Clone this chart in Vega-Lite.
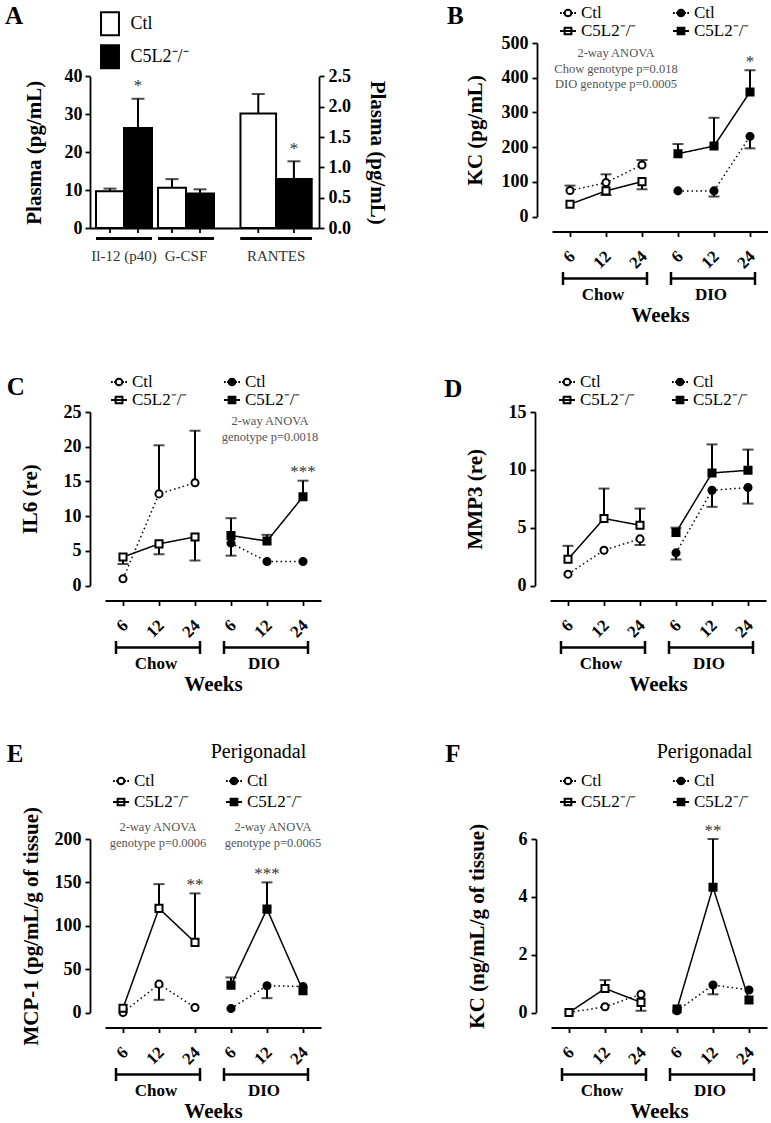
{
"$schema":"https://vega.github.io/schema/vega-lite/v6.json",
"padding":{"left":5,"top":3,"right":0,"bottom":0},
"datasets":{
"A1":[
{"grp":"Il-12 (p40)","g":"Ctl","m":9.67,"e":10.4},
{"grp":"Il-12 (p40)","g":"C5L2","m":26.4,"e":34.1,"sig":"*"},
{"grp":"G-CSF","g":"Ctl","m":10.6,"e":12.9},
{"grp":"G-CSF","g":"C5L2","m":9.1,"e":10.2}],
"A2":[
{"grp":"RANTES","g":"Ctl","m":1.89,"e":2.21},
{"grp":"RANTES","g":"C5L2","m":0.81,"e":1.1,"sig":"*"}],
"ser":[{"s":"Chow Ctl"},{"s":"Chow C5L2"},{"s":"DIO Ctl"},{"s":"DIO C5L2"}],
"brk":[{"d":"Chow","a":"Chow 6","b":"Chow 24","c":"Chow 12"},{"d":"DIO","a":"DIO 6","b":"DIO 24","c":"DIO 12"}],
"B":[
{"d":"Chow","g":"Ctl","w":6,"k":"Chow 6","m":74.7,"e":89},
{"d":"Chow","g":"Ctl","w":12,"k":"Chow 12","m":97.7,"e":121.6},
{"d":"Chow","g":"Ctl","w":24,"k":"Chow 24","m":148.5,"e":162.8},
{"d":"Chow","g":"C5L2","w":6,"k":"Chow 6","m":35.4},
{"d":"Chow","g":"C5L2","w":12,"k":"Chow 12","m":73.8,"e":62},
{"d":"Chow","g":"C5L2","w":24,"k":"Chow 24","m":100.6,"e":78.5},
{"d":"DIO","g":"Ctl","w":6,"k":"DIO 6","m":73.8},
{"d":"DIO","g":"Ctl","w":12,"k":"DIO 12","m":73.8,"e":57.5},
{"d":"DIO","g":"Ctl","w":24,"k":"DIO 24","m":230.8,"e":196.4},
{"d":"DIO","g":"C5L2","w":6,"k":"DIO 6","m":181,"e":208.8},
{"d":"DIO","g":"C5L2","w":12,"k":"DIO 12","m":203,"e":284.5},
{"d":"DIO","g":"C5L2","w":24,"k":"DIO 24","m":359,"e":421.5,"sig":"*"}],
"C":[
{"d":"Chow","g":"Ctl","w":6,"k":"Chow 6","m":0.96},
{"d":"Chow","g":"Ctl","w":12,"k":"Chow 12","m":13.2,"e":20.2},
{"d":"Chow","g":"Ctl","w":24,"k":"Chow 24","m":14.8,"e":22.3},
{"d":"Chow","g":"C5L2","w":6,"k":"Chow 6","m":4.1,"e":3.1},
{"d":"Chow","g":"C5L2","w":12,"k":"Chow 12","m":6.0,"e":4.5},
{"d":"Chow","g":"C5L2","w":24,"k":"Chow 24","m":7.0,"e":3.6},
{"d":"DIO","g":"Ctl","w":6,"k":"DIO 6","m":6.1,"e":4.3},
{"d":"DIO","g":"Ctl","w":12,"k":"DIO 12","m":3.46},
{"d":"DIO","g":"Ctl","w":24,"k":"DIO 24","m":3.46},
{"d":"DIO","g":"C5L2","w":6,"k":"DIO 6","m":7.2,"e":9.7},
{"d":"DIO","g":"C5L2","w":12,"k":"DIO 12","m":6.4,"e":7.3},
{"d":"DIO","g":"C5L2","w":24,"k":"DIO 24","m":12.8,"e":15.1,"sig":"***"}],
"D":[
{"d":"Chow","g":"Ctl","w":6,"k":"Chow 6","m":0.98},
{"d":"Chow","g":"Ctl","w":12,"k":"Chow 12","m":3.05},
{"d":"Chow","g":"Ctl","w":24,"k":"Chow 24","m":4.03,"e":3.5},
{"d":"Chow","g":"C5L2","w":6,"k":"Chow 6","m":2.27,"e":3.43},
{"d":"Chow","g":"C5L2","w":12,"k":"Chow 12","m":5.79,"e":8.38},
{"d":"Chow","g":"C5L2","w":24,"k":"Chow 24","m":5.21,"e":6.65},
{"d":"DIO","g":"Ctl","w":6,"k":"DIO 6","m":2.82,"e":2.25},
{"d":"DIO","g":"Ctl","w":12,"k":"DIO 12","m":8.23,"e":6.8},
{"d":"DIO","g":"Ctl","w":24,"k":"DIO 24","m":8.47,"e":7.08},
{"d":"DIO","g":"C5L2","w":6,"k":"DIO 6","m":4.58,"e":5.0},
{"d":"DIO","g":"C5L2","w":12,"k":"DIO 12","m":9.73,"e":12.2},
{"d":"DIO","g":"C5L2","w":24,"k":"DIO 24","m":9.96,"e":11.75}],
"E":[
{"d":"Chow","g":"Ctl","w":6,"k":"Chow 6","m":0},
{"d":"Chow","g":"Ctl","w":12,"k":"Chow 12","m":32.7,"e":14.6},
{"d":"Chow","g":"Ctl","w":24,"k":"Chow 24","m":5.8},
{"d":"Chow","g":"C5L2","w":6,"k":"Chow 6","m":5},
{"d":"Chow","g":"C5L2","w":12,"k":"Chow 12","m":120,"e":148},
{"d":"Chow","g":"C5L2","w":24,"k":"Chow 24","m":80.8,"e":137.3,"sig":"**"},
{"d":"DIO","g":"Ctl","w":6,"k":"DIO 6","m":4.6},
{"d":"DIO","g":"Ctl","w":12,"k":"DIO 12","m":30.8,"e":16.5},
{"d":"DIO","g":"Ctl","w":24,"k":"DIO 24","m":30},
{"d":"DIO","g":"C5L2","w":6,"k":"DIO 6","m":31.5,"e":40.4},
{"d":"DIO","g":"C5L2","w":12,"k":"DIO 12","m":119.2,"e":150,"sig":"***"},
{"d":"DIO","g":"C5L2","w":24,"k":"DIO 24","m":25}],
"F":[
{"d":"Chow","g":"Ctl","w":6,"k":"Chow 6","m":0},
{"d":"Chow","g":"Ctl","w":12,"k":"Chow 12","m":0.2},
{"d":"Chow","g":"Ctl","w":24,"k":"Chow 24","m":0.63},
{"d":"Chow","g":"C5L2","w":6,"k":"Chow 6","m":0},
{"d":"Chow","g":"C5L2","w":12,"k":"Chow 12","m":0.83,"e":1.12},
{"d":"Chow","g":"C5L2","w":24,"k":"Chow 24","m":0.35,"e":0.06},
{"d":"DIO","g":"Ctl","w":6,"k":"DIO 6","m":0.06},
{"d":"DIO","g":"Ctl","w":12,"k":"DIO 12","m":0.95,"e":0.63},
{"d":"DIO","g":"Ctl","w":24,"k":"DIO 24","m":0.78},
{"d":"DIO","g":"C5L2","w":6,"k":"DIO 6","m":0.12},
{"d":"DIO","g":"C5L2","w":12,"k":"DIO 12","m":4.33,"e":6.0,"sig":"**"},
{"d":"DIO","g":"C5L2","w":24,"k":"DIO 24","m":0.43}]
},
"vconcat":[
{"hconcat":[
{"width":229,"height":185,
"layer":[
{"data":{"name":"A1"},
"layer":[
{"mark":{"type":"bar","stroke":"black","strokeWidth":2},
"encoding":{
"x":{"field":"grp","type":"nominal","scale":{"domain":["Il-12 (p40)","G-CSF"],"paddingInner":0.0968,"paddingOuter":0.8951,"align":0.0541},"axis":{"orient":"bottom","ticks":false,"tickSize":0,"labelPadding":20,"labelFontWeight":"normal","labelFontSize":15,"labelColor":"#333","labelAngle":0,"title":null}},
"xOffset":{"field":"g","type":"nominal","scale":{"domain":["Ctl","C5L2"],"paddingInner":0,"paddingOuter":0}},
"y":{"field":"m","type":"quantitative","scale":{"domain":[0,40],"nice":false,"range":[185,33.4]},"axis":{"values":[0,10,20,30,40],"format":"d","tickCount":20,"labelOverlap":false,"title":"Plasma (pg/mL)","titleX":-56,"titleBaseline":"middle","labelPadding":3}},
"fill":{"field":"g","type":"nominal","scale":{"domain":["Ctl","C5L2"],"range":["white","black"]},"legend":{"orient":"none","legendX":7.5,"legendY":-31.8,"columns":1,"title":null,"symbolType":"M-0.78,-1H0.78V1H-0.78Z","symbolSize":529,"labelFontSize":18,"labelOffset":8,"rowPadding":2,"labelExpr":"datum.label=='Ctl'?'Ctl':'C5L2\u207b/\u207b'"}}}},
{"transform":[{"filter":"isValid(datum.e)"}],"mark":{"type":"rule","color":"black","strokeWidth":2},
"encoding":{"x":{"field":"grp","type":"nominal"},"xOffset":{"field":"g","type":"nominal"},"y":{"field":"m","type":"quantitative"},"y2":{"field":"e"}}},
{"transform":[{"filter":"isValid(datum.e)"}],"mark":{"type":"tick","color":"black","size":13,"thickness":2},
"encoding":{"x":{"field":"grp","type":"nominal"},"xOffset":{"field":"g","type":"nominal"},"y":{"field":"e","type":"quantitative"}}},
{"mark":{"type":"rule","color":"black","strokeWidth":1.8,"y2Offset":5},
"encoding":{"x":{"field":"grp","type":"nominal"},"xOffset":{"field":"g","type":"nominal"},"y":{"datum":0},"y2":{"datum":0}}},
{"mark":{"type":"bar","color":"black","yOffset":9,"y2Offset":12},
"encoding":{"x":{"field":"grp","type":"nominal"},"y":{"datum":0},"y2":{"datum":0}}},
{"transform":[{"filter":"isValid(datum.sig)"}],"mark":{"type":"text","fontSize":17,"color":"#333","baseline":"alphabetic","dy":-7.5},
"encoding":{"x":{"field":"grp","type":"nominal"},"xOffset":{"field":"g","type":"nominal"},"y":{"field":"e","type":"quantitative"},"text":{"field":"sig"}}},
{"data":{"values":[{}]},"mark":{"type":"text","fontSize":25,"fontWeight":"bold","align":"left","baseline":"alphabetic","dx":-119,"dy":-52.7},
"encoding":{"x":{"datum":"Il-12 (p40)","type":"nominal"},"y":{"datum":40},"text":{"value":"A"}}}
]},
{"data":{"name":"A2"},
"layer":[
{"mark":{"type":"bar","stroke":"black","strokeWidth":2},
"encoding":{
"x":{"field":"grp","type":"nominal","scale":{"domain":["RANTES"],"paddingInner":0.0968,"paddingOuter":1.3952,"align":0.9538},"axis":{"orient":"bottom","domain":false,"ticks":false,"tickSize":0,"labelPadding":20,"labelFontWeight":"normal","labelFontSize":15,"labelColor":"#333","labelAngle":0,"title":null}},
"xOffset":{"field":"g","type":"nominal","scale":{"domain":["Ctl","C5L2"],"paddingInner":0,"paddingOuter":0}},
"y":{"field":"m","type":"quantitative","scale":{"domain":[0,2.5],"nice":false,"range":[185,33.4]},"axis":{"orient":"right","values":[0,0.5,1,1.5,2,2.5],"tickCount":20,"labelOverlap":false,"format":".1f","title":"Plasma (pg/mL)","titleX":57,"titleBaseline":"middle","labelPadding":4}},
"fill":{"field":"g","type":"nominal","scale":{"domain":["Ctl","C5L2"],"range":["white","black"]},"legend":null}}},
{"mark":{"type":"rule","color":"black","strokeWidth":2},
"encoding":{"x":{"field":"grp","type":"nominal"},"xOffset":{"field":"g","type":"nominal"},"y":{"field":"m","type":"quantitative"},"y2":{"field":"e"}}},
{"mark":{"type":"tick","color":"black","size":13,"thickness":2},
"encoding":{"x":{"field":"grp","type":"nominal"},"xOffset":{"field":"g","type":"nominal"},"y":{"field":"e","type":"quantitative"}}},
{"mark":{"type":"rule","color":"black","strokeWidth":1.8,"y2Offset":5},
"encoding":{"x":{"field":"grp","type":"nominal"},"xOffset":{"field":"g","type":"nominal"},"y":{"datum":0},"y2":{"datum":0}}},
{"mark":{"type":"bar","color":"black","yOffset":9,"y2Offset":12},
"encoding":{"x":{"field":"grp","type":"nominal"},"y":{"datum":0},"y2":{"datum":0}}},
{"transform":[{"filter":"isValid(datum.sig)"}],"mark":{"type":"text","fontSize":17,"color":"#333","baseline":"alphabetic","dy":-7.5},
"encoding":{"x":{"field":"grp","type":"nominal"},"xOffset":{"field":"g","type":"nominal"},"y":{"field":"e","type":"quantitative"},"text":{"field":"sig"}}}
]}
],
"resolve":{"scale":{"x":"independent","y":"independent","xOffset":"independent","fill":"independent"},"axis":{"x":"independent","y":"independent"}}
},
{"width":231,"height":173.5,"data":{"name":"B"},
"layer":[
{"mark":{"type":"line","color":"black","strokeWidth":1.5},
"encoding":{
"x":{"field":"k","type":"ordinal","scale":{"type":"point","domain":["Chow 6","Chow 12","Chow 24","DIO 6","DIO 12","DIO 24"],"padding":0.5,"range":[15,231]},"axis":{"offset":15,"labelAngle":-45,"labelAlign":"right","labelBaseline":"middle","labelPadding":17,"labelOffset":2,"labelFontSize":17,"labelOverlap":false,"labelExpr":"split(datum.label,' ')[1]","title":"Weeks","titleY":90,"titleBaseline":"alphabetic","titleFontSize":21}},
"y":{"field":"m","type":"quantitative","scale":{"domain":[0,500],"nice":false},"axis":{"values":[0,100,200,300,400,500],"format":"d","tickCount":20,"labelOverlap":false,"title":"KC (pg/mL)","titleX":-62,"titleBaseline":"middle"}},
"detail":[{"field":"d"},{"field":"g"}],
"strokeDash":{"field":"g","type":"nominal","scale":{"domain":["Ctl","C5L2"],"range":[[1.5,3],[1,0]]},"legend":null},
"order":{"field":"w","type":"quantitative"}}},
{"transform":[{"filter":"isValid(datum.e)"}],"mark":{"type":"rule","color":"black","strokeWidth":2},
"encoding":{"x":{"field":"k","type":"ordinal"},"y":{"field":"m","type":"quantitative"},"y2":{"field":"e"}}},
{"transform":[{"filter":"isValid(datum.e)"}],"mark":{"type":"tick","color":"black","size":11,"thickness":2},
"encoding":{"x":{"field":"k","type":"ordinal"},"y":{"field":"e","type":"quantitative"}}},
{"mark":{"type":"point","filled":true,"stroke":"black","strokeWidth":2,"size":50,"opacity":1},
"encoding":{"x":{"field":"k","type":"ordinal"},"y":{"field":"m","type":"quantitative"},
"shape":{"field":"g","type":"nominal","scale":{"domain":["Ctl","C5L2"],"range":["circle","square"]},"legend":null},
"fill":{"field":"d","type":"nominal","scale":{"domain":["Chow","DIO"],"range":["white","black"]},"legend":null}}},
{"transform":[{"filter":"isValid(datum.sig)"}],"mark":{"type":"text","fontSize":17,"color":"#333","baseline":"alphabetic","dy":-3.5},
"encoding":{"x":{"field":"k","type":"ordinal"},"y":{"field":"e","type":"quantitative"},"text":{"field":"sig"}}},
{"data":{"name":"ser"},"mark":{"type":"point","opacity":0,"filled":true},
"encoding":{
"shape":{"field":"s","type":"nominal","scale":{"domain":["Chow Ctl","Chow C5L2","DIO Ctl","DIO C5L2"],"range":["M-1,0H-0.78M-0.62,0H-0.45M0.45,0H0.62M0.78,0H1M0.42,0A0.42,0.42,0,1,1,-0.42,0A0.42,0.42,0,1,1,0.42,0Z","M-1,0H1M-0.42,-0.42H0.42V0.42H-0.42Z","M-1,0H-0.78M-0.62,0H-0.45M0.45,0H0.62M0.78,0H1M0.42,0A0.42,0.42,0,1,1,-0.42,0A0.42,0.42,0,1,1,0.42,0Z","M-1,0H1M-0.42,-0.42H0.42V0.42H-0.42Z"]},"legend":{"orient":"none","legendX":22,"legendY":-39,"columns":2,"title":null,"symbolSize":256,"rowPadding":1,"labelExpr":"indexof(datum.label,'Ctl')>=0?'Ctl':'C5L2\u207b/\u207b'","encode":{"symbols":{"update":{"stroke":{"value":"black"},"strokeWidth":{"value":2}}}}}},
"fill":{"field":"s","type":"nominal","scale":{"domain":["Chow Ctl","Chow C5L2","DIO Ctl","DIO C5L2"],"range":["white","white","black","black"]},"legend":{"orient":"none","legendX":22,"legendY":-39,"columns":2,"title":null,"symbolSize":256,"rowPadding":1,"labelExpr":"indexof(datum.label,'Ctl')>=0?'Ctl':'C5L2\u207b/\u207b'","encode":{"symbols":{"update":{"stroke":{"value":"black"},"strokeWidth":{"value":2}}}}}}}},
{"data":{"name":"brk"},"mark":{"type":"rule","color":"black","strokeWidth":2.5,"xOffset":-7,"x2Offset":5,"yOffset":62},
"encoding":{"x":{"field":"a","type":"ordinal"},"x2":{"field":"b"},"y":{"datum":0}}},
{"data":{"name":"brk"},"mark":{"type":"rule","color":"black","strokeWidth":2.5,"xOffset":-7,"yOffset":55.5,"y2Offset":68.5},
"encoding":{"x":{"field":"a","type":"ordinal"},"y":{"datum":0},"y2":{"datum":0}}},
{"data":{"name":"brk"},"mark":{"type":"rule","color":"black","strokeWidth":2.5,"xOffset":5,"yOffset":55.5,"y2Offset":68.5},
"encoding":{"x":{"field":"b","type":"ordinal"},"y":{"datum":0},"y2":{"datum":0}}},
{"data":{"name":"brk"},"mark":{"type":"text","fontSize":17,"fontWeight":"bold","baseline":"alphabetic","dy":83,"dx":-3},
"encoding":{"x":{"field":"c","type":"ordinal"},"y":{"datum":0},"text":{"field":"d"}}},
{"data":{"values":[{}]},"mark":{"type":"text","fontSize":25,"fontWeight":"bold","align":"left","baseline":"alphabetic","dx":-123,"dy":-19.3},
"encoding":{"x":{"datum":"Chow 6","type":"ordinal"},"y":{"datum":500},"text":{"value":"B"}}},
{"data":{"values":[{}]},"mark":{"type":"text","fontSize":12.5,"color":"#555","align":"center","baseline":"top","lineHeight":15.5,"dx":10,"dy":4},
"encoding":{"x":{"datum":"Chow 12","type":"ordinal"},"y":{"datum":500},"text":{"value":["2-way ANOVA","Chow genotype p=0.018","DIO genotype p=0.0005"]}}}
],
"resolve":{"scale":{"shape":"independent","fill":"independent"}}
}
],"spacing":60},
{"hconcat":[
{"width":231,"height":173.5,"data":{"name":"C"},
"layer":[
{"mark":{"type":"line","color":"black","strokeWidth":1.5},
"encoding":{
"x":{"field":"k","type":"ordinal","scale":{"type":"point","domain":["Chow 6","Chow 12","Chow 24","DIO 6","DIO 12","DIO 24"],"padding":0.5,"range":[15,231]},"axis":{"offset":15,"labelAngle":-45,"labelAlign":"right","labelBaseline":"middle","labelPadding":17,"labelOffset":2,"labelFontSize":17,"labelOverlap":false,"labelExpr":"split(datum.label,' ')[1]","title":"Weeks","titleY":90,"titleBaseline":"alphabetic","titleFontSize":21}},
"y":{"field":"m","type":"quantitative","scale":{"domain":[0,25],"nice":false},"axis":{"values":[0,5,10,15,20,25],"format":"d","tickCount":20,"labelOverlap":false,"title":"IL6 (re)","titleX":-60,"titleBaseline":"middle"}},
"detail":[{"field":"d"},{"field":"g"}],
"strokeDash":{"field":"g","type":"nominal","scale":{"domain":["Ctl","C5L2"],"range":[[1.5,3],[1,0]]},"legend":null},
"order":{"field":"w","type":"quantitative"}}},
{"transform":[{"filter":"isValid(datum.e)"}],"mark":{"type":"rule","color":"black","strokeWidth":2},
"encoding":{"x":{"field":"k","type":"ordinal"},"y":{"field":"m","type":"quantitative"},"y2":{"field":"e"}}},
{"transform":[{"filter":"isValid(datum.e)"}],"mark":{"type":"tick","color":"black","size":11,"thickness":2},
"encoding":{"x":{"field":"k","type":"ordinal"},"y":{"field":"e","type":"quantitative"}}},
{"mark":{"type":"point","filled":true,"stroke":"black","strokeWidth":2,"size":50,"opacity":1},
"encoding":{"x":{"field":"k","type":"ordinal"},"y":{"field":"m","type":"quantitative"},
"shape":{"field":"g","type":"nominal","scale":{"domain":["Ctl","C5L2"],"range":["circle","square"]},"legend":null},
"fill":{"field":"d","type":"nominal","scale":{"domain":["Chow","DIO"],"range":["white","black"]},"legend":null}}},
{"transform":[{"filter":"isValid(datum.sig)"}],"mark":{"type":"text","fontSize":17,"color":"#333","baseline":"alphabetic","dy":-3.5},
"encoding":{"x":{"field":"k","type":"ordinal"},"y":{"field":"e","type":"quantitative"},"text":{"field":"sig"}}},
{"data":{"name":"ser"},"mark":{"type":"point","opacity":0,"filled":true},
"encoding":{
"shape":{"field":"s","type":"nominal","scale":{"domain":["Chow Ctl","Chow C5L2","DIO Ctl","DIO C5L2"],"range":["M-1,0H-0.78M-0.62,0H-0.45M0.45,0H0.62M0.78,0H1M0.42,0A0.42,0.42,0,1,1,-0.42,0A0.42,0.42,0,1,1,0.42,0Z","M-1,0H1M-0.42,-0.42H0.42V0.42H-0.42Z","M-1,0H-0.78M-0.62,0H-0.45M0.45,0H0.62M0.78,0H1M0.42,0A0.42,0.42,0,1,1,-0.42,0A0.42,0.42,0,1,1,0.42,0Z","M-1,0H1M-0.42,-0.42H0.42V0.42H-0.42Z"]},"legend":{"orient":"none","legendX":20,"legendY":-39,"columns":2,"title":null,"symbolSize":256,"rowPadding":1,"labelExpr":"indexof(datum.label,'Ctl')>=0?'Ctl':'C5L2\u207b/\u207b'","encode":{"symbols":{"update":{"stroke":{"value":"black"},"strokeWidth":{"value":2}}}}}},
"fill":{"field":"s","type":"nominal","scale":{"domain":["Chow Ctl","Chow C5L2","DIO Ctl","DIO C5L2"],"range":["white","white","black","black"]},"legend":{"orient":"none","legendX":20,"legendY":-39,"columns":2,"title":null,"symbolSize":256,"rowPadding":1,"labelExpr":"indexof(datum.label,'Ctl')>=0?'Ctl':'C5L2\u207b/\u207b'","encode":{"symbols":{"update":{"stroke":{"value":"black"},"strokeWidth":{"value":2}}}}}}}},
{"data":{"name":"brk"},"mark":{"type":"rule","color":"black","strokeWidth":2.5,"xOffset":-7,"x2Offset":5,"yOffset":62},
"encoding":{"x":{"field":"a","type":"ordinal"},"x2":{"field":"b"},"y":{"datum":0}}},
{"data":{"name":"brk"},"mark":{"type":"rule","color":"black","strokeWidth":2.5,"xOffset":-7,"yOffset":55.5,"y2Offset":68.5},
"encoding":{"x":{"field":"a","type":"ordinal"},"y":{"datum":0},"y2":{"datum":0}}},
{"data":{"name":"brk"},"mark":{"type":"rule","color":"black","strokeWidth":2.5,"xOffset":5,"yOffset":55.5,"y2Offset":68.5},
"encoding":{"x":{"field":"b","type":"ordinal"},"y":{"datum":0},"y2":{"datum":0}}},
{"data":{"name":"brk"},"mark":{"type":"text","fontSize":17,"fontWeight":"bold","baseline":"alphabetic","dy":83,"dx":-3},
"encoding":{"x":{"field":"c","type":"ordinal"},"y":{"datum":0},"text":{"field":"d"}}},
{"data":{"values":[{}]},"mark":{"type":"text","fontSize":25,"fontWeight":"bold","align":"left","baseline":"alphabetic","dx":-116.3,"dy":-16.7},
"encoding":{"x":{"datum":"Chow 6","type":"ordinal"},"y":{"datum":25},"text":{"value":"C"}}},
{"data":{"values":[{}]},"mark":{"type":"text","fontSize":12.5,"color":"#555","align":"center","baseline":"top","lineHeight":15.5,"dx":3,"dy":3},
"encoding":{"x":{"datum":"DIO 12","type":"ordinal"},"y":{"datum":25},"text":{"value":["2-way ANOVA","genotype p=0.0018"]}}}
],
"resolve":{"scale":{"shape":"independent","fill":"independent"}}
},
{"width":231,"height":173.5,"data":{"name":"D"},
"layer":[
{"mark":{"type":"line","color":"black","strokeWidth":1.5},
"encoding":{
"x":{"field":"k","type":"ordinal","scale":{"type":"point","domain":["Chow 6","Chow 12","Chow 24","DIO 6","DIO 12","DIO 24"],"padding":0.5,"range":[15,231]},"axis":{"offset":15,"labelAngle":-45,"labelAlign":"right","labelBaseline":"middle","labelPadding":17,"labelOffset":2,"labelFontSize":17,"labelOverlap":false,"labelExpr":"split(datum.label,' ')[1]","title":"Weeks","titleY":90,"titleBaseline":"alphabetic","titleFontSize":21}},
"y":{"field":"m","type":"quantitative","scale":{"domain":[0,15],"nice":false},"axis":{"values":[0,5,10,15],"format":"d","tickCount":20,"labelOverlap":false,"title":"MMP3 (re)","titleX":-60,"titleBaseline":"middle"}},
"detail":[{"field":"d"},{"field":"g"}],
"strokeDash":{"field":"g","type":"nominal","scale":{"domain":["Ctl","C5L2"],"range":[[1.5,3],[1,0]]},"legend":null},
"order":{"field":"w","type":"quantitative"}}},
{"transform":[{"filter":"isValid(datum.e)"}],"mark":{"type":"rule","color":"black","strokeWidth":2},
"encoding":{"x":{"field":"k","type":"ordinal"},"y":{"field":"m","type":"quantitative"},"y2":{"field":"e"}}},
{"transform":[{"filter":"isValid(datum.e)"}],"mark":{"type":"tick","color":"black","size":11,"thickness":2},
"encoding":{"x":{"field":"k","type":"ordinal"},"y":{"field":"e","type":"quantitative"}}},
{"mark":{"type":"point","filled":true,"stroke":"black","strokeWidth":2,"size":50,"opacity":1},
"encoding":{"x":{"field":"k","type":"ordinal"},"y":{"field":"m","type":"quantitative"},
"shape":{"field":"g","type":"nominal","scale":{"domain":["Ctl","C5L2"],"range":["circle","square"]},"legend":null},
"fill":{"field":"d","type":"nominal","scale":{"domain":["Chow","DIO"],"range":["white","black"]},"legend":null}}},
{"data":{"name":"ser"},"mark":{"type":"point","opacity":0,"filled":true},
"encoding":{
"shape":{"field":"s","type":"nominal","scale":{"domain":["Chow Ctl","Chow C5L2","DIO Ctl","DIO C5L2"],"range":["M-1,0H-0.78M-0.62,0H-0.45M0.45,0H0.62M0.78,0H1M0.42,0A0.42,0.42,0,1,1,-0.42,0A0.42,0.42,0,1,1,0.42,0Z","M-1,0H1M-0.42,-0.42H0.42V0.42H-0.42Z","M-1,0H-0.78M-0.62,0H-0.45M0.45,0H0.62M0.78,0H1M0.42,0A0.42,0.42,0,1,1,-0.42,0A0.42,0.42,0,1,1,0.42,0Z","M-1,0H1M-0.42,-0.42H0.42V0.42H-0.42Z"]},"legend":{"orient":"none","legendX":23,"legendY":-39,"columns":2,"title":null,"symbolSize":256,"rowPadding":1,"labelExpr":"indexof(datum.label,'Ctl')>=0?'Ctl':'C5L2\u207b/\u207b'","encode":{"symbols":{"update":{"stroke":{"value":"black"},"strokeWidth":{"value":2}}}}}},
"fill":{"field":"s","type":"nominal","scale":{"domain":["Chow Ctl","Chow C5L2","DIO Ctl","DIO C5L2"],"range":["white","white","black","black"]},"legend":{"orient":"none","legendX":23,"legendY":-39,"columns":2,"title":null,"symbolSize":256,"rowPadding":1,"labelExpr":"indexof(datum.label,'Ctl')>=0?'Ctl':'C5L2\u207b/\u207b'","encode":{"symbols":{"update":{"stroke":{"value":"black"},"strokeWidth":{"value":2}}}}}}}},
{"data":{"name":"brk"},"mark":{"type":"rule","color":"black","strokeWidth":2.5,"xOffset":-7,"x2Offset":5,"yOffset":62},
"encoding":{"x":{"field":"a","type":"ordinal"},"x2":{"field":"b"},"y":{"datum":0}}},
{"data":{"name":"brk"},"mark":{"type":"rule","color":"black","strokeWidth":2.5,"xOffset":-7,"yOffset":55.5,"y2Offset":68.5},
"encoding":{"x":{"field":"a","type":"ordinal"},"y":{"datum":0},"y2":{"datum":0}}},
{"data":{"name":"brk"},"mark":{"type":"rule","color":"black","strokeWidth":2.5,"xOffset":5,"yOffset":55.5,"y2Offset":68.5},
"encoding":{"x":{"field":"b","type":"ordinal"},"y":{"datum":0},"y2":{"datum":0}}},
{"data":{"name":"brk"},"mark":{"type":"text","fontSize":17,"fontWeight":"bold","baseline":"alphabetic","dy":83,"dx":-3},
"encoding":{"x":{"field":"c","type":"ordinal"},"y":{"datum":0},"text":{"field":"d"}}},
{"data":{"values":[{}]},"mark":{"type":"text","fontSize":25,"fontWeight":"bold","align":"left","baseline":"alphabetic","dx":-123.7,"dy":-15},
"encoding":{"x":{"datum":"Chow 6","type":"ordinal"},"y":{"datum":15},"text":{"value":"D"}}}
],
"resolve":{"scale":{"shape":"independent","fill":"independent"}}
}
],"spacing":123},
{"hconcat":[
{"width":231,"height":173.5,"data":{"name":"E"},
"layer":[
{"mark":{"type":"line","color":"black","strokeWidth":1.5},
"encoding":{
"x":{"field":"k","type":"ordinal","scale":{"type":"point","domain":["Chow 6","Chow 12","Chow 24","DIO 6","DIO 12","DIO 24"],"padding":0.5,"range":[15,231]},"axis":{"offset":15,"labelAngle":-45,"labelAlign":"right","labelBaseline":"middle","labelPadding":17,"labelOffset":2,"labelFontSize":17,"labelOverlap":false,"labelExpr":"split(datum.label,' ')[1]","title":"Weeks","titleY":90,"titleBaseline":"alphabetic","titleFontSize":21}},
"y":{"field":"m","type":"quantitative","scale":{"domain":[0,200],"nice":false},"axis":{"values":[0,50,100,150,200],"format":"d","tickCount":20,"labelOverlap":false,"title":"MCP-1 (pg/mL/g of tissue)","titleX":-59,"titleBaseline":"middle"}},
"detail":[{"field":"d"},{"field":"g"}],
"strokeDash":{"field":"g","type":"nominal","scale":{"domain":["Ctl","C5L2"],"range":[[1.5,3],[1,0]]},"legend":null},
"order":{"field":"w","type":"quantitative"}}},
{"transform":[{"filter":"isValid(datum.e)"}],"mark":{"type":"rule","color":"black","strokeWidth":2},
"encoding":{"x":{"field":"k","type":"ordinal"},"y":{"field":"m","type":"quantitative"},"y2":{"field":"e"}}},
{"transform":[{"filter":"isValid(datum.e)"}],"mark":{"type":"tick","color":"black","size":11,"thickness":2},
"encoding":{"x":{"field":"k","type":"ordinal"},"y":{"field":"e","type":"quantitative"}}},
{"mark":{"type":"point","filled":true,"stroke":"black","strokeWidth":2,"size":50,"opacity":1},
"encoding":{"x":{"field":"k","type":"ordinal"},"y":{"field":"m","type":"quantitative"},
"shape":{"field":"g","type":"nominal","scale":{"domain":["Ctl","C5L2"],"range":["circle","square"]},"legend":null},
"fill":{"field":"d","type":"nominal","scale":{"domain":["Chow","DIO"],"range":["white","black"]},"legend":null}}},
{"transform":[{"filter":"isValid(datum.sig)"}],"mark":{"type":"text","fontSize":17,"color":"#333","baseline":"alphabetic","dy":-3.5},
"encoding":{"x":{"field":"k","type":"ordinal"},"y":{"field":"e","type":"quantitative"},"text":{"field":"sig"}}},
{"data":{"name":"ser"},"mark":{"type":"point","opacity":0,"filled":true},
"encoding":{
"shape":{"field":"s","type":"nominal","scale":{"domain":["Chow Ctl","Chow C5L2","DIO Ctl","DIO C5L2"],"range":["M-1,0H-0.78M-0.62,0H-0.45M0.45,0H0.62M0.78,0H1M0.42,0A0.42,0.42,0,1,1,-0.42,0A0.42,0.42,0,1,1,0.42,0Z","M-1,0H1M-0.42,-0.42H0.42V0.42H-0.42Z","M-1,0H-0.78M-0.62,0H-0.45M0.45,0H0.62M0.78,0H1M0.42,0A0.42,0.42,0,1,1,-0.42,0A0.42,0.42,0,1,1,0.42,0Z","M-1,0H1M-0.42,-0.42H0.42V0.42H-0.42Z"]},"legend":{"orient":"none","legendX":22,"legendY":-67,"columns":2,"title":null,"symbolSize":256,"rowPadding":4,"labelExpr":"indexof(datum.label,'Ctl')>=0?'Ctl':'C5L2\u207b/\u207b'","encode":{"symbols":{"update":{"stroke":{"value":"black"},"strokeWidth":{"value":2}}}}}},
"fill":{"field":"s","type":"nominal","scale":{"domain":["Chow Ctl","Chow C5L2","DIO Ctl","DIO C5L2"],"range":["white","white","black","black"]},"legend":{"orient":"none","legendX":22,"legendY":-67,"columns":2,"title":null,"symbolSize":256,"rowPadding":4,"labelExpr":"indexof(datum.label,'Ctl')>=0?'Ctl':'C5L2\u207b/\u207b'","encode":{"symbols":{"update":{"stroke":{"value":"black"},"strokeWidth":{"value":2}}}}}}}},
{"data":{"name":"brk"},"mark":{"type":"rule","color":"black","strokeWidth":2.5,"xOffset":-7,"x2Offset":5,"yOffset":62},
"encoding":{"x":{"field":"a","type":"ordinal"},"x2":{"field":"b"},"y":{"datum":0}}},
{"data":{"name":"brk"},"mark":{"type":"rule","color":"black","strokeWidth":2.5,"xOffset":-7,"yOffset":55.5,"y2Offset":68.5},
"encoding":{"x":{"field":"a","type":"ordinal"},"y":{"datum":0},"y2":{"datum":0}}},
{"data":{"name":"brk"},"mark":{"type":"rule","color":"black","strokeWidth":2.5,"xOffset":5,"yOffset":55.5,"y2Offset":68.5},
"encoding":{"x":{"field":"b","type":"ordinal"},"y":{"datum":0},"y2":{"datum":0}}},
{"data":{"name":"brk"},"mark":{"type":"text","fontSize":17,"fontWeight":"bold","baseline":"alphabetic","dy":83,"dx":-3},
"encoding":{"x":{"field":"c","type":"ordinal"},"y":{"datum":0},"text":{"field":"d"}}},
{"data":{"values":[{}]},"mark":{"type":"text","fontSize":25,"fontWeight":"bold","align":"left","baseline":"alphabetic","dx":-116.3,"dy":-76.7},
"encoding":{"x":{"datum":"Chow 6","type":"ordinal"},"y":{"datum":200},"text":{"value":"E"}}},
{"data":{"values":[{}]},"mark":{"type":"text","fontSize":20,"align":"center","baseline":"middle","dx":27.5,"dy":-87},
"encoding":{"x":{"datum":"DIO 6","type":"ordinal"},"y":{"datum":200},"text":{"value":"Perigonadal"}}},
{"data":{"values":[{}]},"mark":{"type":"text","fontSize":12.5,"color":"#555","align":"center","baseline":"top","lineHeight":15.5,"dx":-1,"dy":-18},
"encoding":{"x":{"datum":"Chow 12","type":"ordinal"},"y":{"datum":200},"text":{"value":["2-way ANOVA","genotype p=0.0006"]}}},
{"data":{"values":[{}]},"mark":{"type":"text","fontSize":12.5,"color":"#555","align":"center","baseline":"top","lineHeight":15.5,"dx":6,"dy":-18},
"encoding":{"x":{"datum":"DIO 12","type":"ordinal"},"y":{"datum":200},"text":{"value":["2-way ANOVA","genotype p=0.0065"]}}}
],
"resolve":{"scale":{"shape":"independent","fill":"independent"}}
},
{"width":231,"height":173.5,"data":{"name":"F"},
"layer":[
{"mark":{"type":"line","color":"black","strokeWidth":1.5},
"encoding":{
"x":{"field":"k","type":"ordinal","scale":{"type":"point","domain":["Chow 6","Chow 12","Chow 24","DIO 6","DIO 12","DIO 24"],"padding":0.5,"range":[15,231]},"axis":{"offset":15,"labelAngle":-45,"labelAlign":"right","labelBaseline":"middle","labelPadding":17,"labelOffset":2,"labelFontSize":17,"labelOverlap":false,"labelExpr":"split(datum.label,' ')[1]","title":"Weeks","titleY":90,"titleBaseline":"alphabetic","titleFontSize":21}},
"y":{"field":"m","type":"quantitative","scale":{"domain":[0,6],"nice":false},"axis":{"values":[0,2,4,6],"format":"d","tickCount":20,"labelOverlap":false,"title":"KC (ng/mL/g of tissue)","titleX":-59,"titleBaseline":"middle"}},
"detail":[{"field":"d"},{"field":"g"}],
"strokeDash":{"field":"g","type":"nominal","scale":{"domain":["Ctl","C5L2"],"range":[[1.5,3],[1,0]]},"legend":null},
"order":{"field":"w","type":"quantitative"}}},
{"transform":[{"filter":"isValid(datum.e)"}],"mark":{"type":"rule","color":"black","strokeWidth":2},
"encoding":{"x":{"field":"k","type":"ordinal"},"y":{"field":"m","type":"quantitative"},"y2":{"field":"e"}}},
{"transform":[{"filter":"isValid(datum.e)"}],"mark":{"type":"tick","color":"black","size":11,"thickness":2},
"encoding":{"x":{"field":"k","type":"ordinal"},"y":{"field":"e","type":"quantitative"}}},
{"mark":{"type":"point","filled":true,"stroke":"black","strokeWidth":2,"size":50,"opacity":1},
"encoding":{"x":{"field":"k","type":"ordinal"},"y":{"field":"m","type":"quantitative"},
"shape":{"field":"g","type":"nominal","scale":{"domain":["Ctl","C5L2"],"range":["circle","square"]},"legend":null},
"fill":{"field":"d","type":"nominal","scale":{"domain":["Chow","DIO"],"range":["white","black"]},"legend":null}}},
{"transform":[{"filter":"isValid(datum.sig)"}],"mark":{"type":"text","fontSize":17,"color":"#333","baseline":"alphabetic","dy":-3.5},
"encoding":{"x":{"field":"k","type":"ordinal"},"y":{"field":"e","type":"quantitative"},"text":{"field":"sig"}}},
{"data":{"name":"ser"},"mark":{"type":"point","opacity":0,"filled":true},
"encoding":{
"shape":{"field":"s","type":"nominal","scale":{"domain":["Chow Ctl","Chow C5L2","DIO Ctl","DIO C5L2"],"range":["M-1,0H-0.78M-0.62,0H-0.45M0.45,0H0.62M0.78,0H1M0.42,0A0.42,0.42,0,1,1,-0.42,0A0.42,0.42,0,1,1,0.42,0Z","M-1,0H1M-0.42,-0.42H0.42V0.42H-0.42Z","M-1,0H-0.78M-0.62,0H-0.45M0.45,0H0.62M0.78,0H1M0.42,0A0.42,0.42,0,1,1,-0.42,0A0.42,0.42,0,1,1,0.42,0Z","M-1,0H1M-0.42,-0.42H0.42V0.42H-0.42Z"]},"legend":{"orient":"none","legendX":23,"legendY":-67,"columns":2,"title":null,"symbolSize":256,"rowPadding":4,"labelExpr":"indexof(datum.label,'Ctl')>=0?'Ctl':'C5L2\u207b/\u207b'","encode":{"symbols":{"update":{"stroke":{"value":"black"},"strokeWidth":{"value":2}}}}}},
"fill":{"field":"s","type":"nominal","scale":{"domain":["Chow Ctl","Chow C5L2","DIO Ctl","DIO C5L2"],"range":["white","white","black","black"]},"legend":{"orient":"none","legendX":23,"legendY":-67,"columns":2,"title":null,"symbolSize":256,"rowPadding":4,"labelExpr":"indexof(datum.label,'Ctl')>=0?'Ctl':'C5L2\u207b/\u207b'","encode":{"symbols":{"update":{"stroke":{"value":"black"},"strokeWidth":{"value":2}}}}}}}},
{"data":{"name":"brk"},"mark":{"type":"rule","color":"black","strokeWidth":2.5,"xOffset":-7,"x2Offset":5,"yOffset":62},
"encoding":{"x":{"field":"a","type":"ordinal"},"x2":{"field":"b"},"y":{"datum":0}}},
{"data":{"name":"brk"},"mark":{"type":"rule","color":"black","strokeWidth":2.5,"xOffset":-7,"yOffset":55.5,"y2Offset":68.5},
"encoding":{"x":{"field":"a","type":"ordinal"},"y":{"datum":0},"y2":{"datum":0}}},
{"data":{"name":"brk"},"mark":{"type":"rule","color":"black","strokeWidth":2.5,"xOffset":5,"yOffset":55.5,"y2Offset":68.5},
"encoding":{"x":{"field":"b","type":"ordinal"},"y":{"datum":0},"y2":{"datum":0}}},
{"data":{"name":"brk"},"mark":{"type":"text","fontSize":17,"fontWeight":"bold","baseline":"alphabetic","dy":83,"dx":-3},
"encoding":{"x":{"field":"c","type":"ordinal"},"y":{"datum":0},"text":{"field":"d"}}},
{"data":{"values":[{}]},"mark":{"type":"text","fontSize":25,"fontWeight":"bold","align":"left","baseline":"alphabetic","dx":-123.7,"dy":-76.7},
"encoding":{"x":{"datum":"Chow 6","type":"ordinal"},"y":{"datum":6},"text":{"value":"F"}}},
{"data":{"values":[{}]},"mark":{"type":"text","fontSize":20,"align":"center","baseline":"middle","dx":27.5,"dy":-87},
"encoding":{"x":{"datum":"DIO 6","type":"ordinal"},"y":{"datum":6},"text":{"value":"Perigonadal"}}}
],
"resolve":{"scale":{"shape":"independent","fill":"independent"}}
}
],"spacing":123}
],
"spacing":47,
"config":{
"view":{"stroke":null},
"font":"Liberation Serif",
"axis":{"domainColor":"black","domainWidth":1.8,"tickColor":"black","tickWidth":1.8,"tickSize":5,"labelFont":"Liberation Serif","labelFontSize":18,"labelFontWeight":"bold","labelColor":"black","labelPadding":4,"labelOverlap":false,"titleFont":"Liberation Serif","titleFontSize":21,"titleFontWeight":"bold","titleColor":"black","grid":false},
"legend":{"labelFont":"Liberation Serif","labelFontSize":17,"labelColor":"black","labelOffset":4,"symbolStrokeWidth":2,"symbolStrokeColor":"black","symbolOpacity":1,"columnPadding":32,"padding":0}
}
}
